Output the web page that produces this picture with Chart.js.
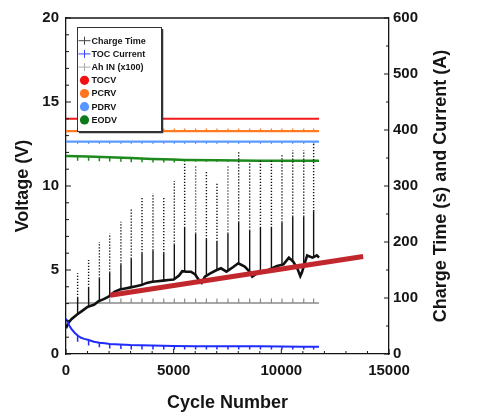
<!DOCTYPE html>
<html>
<head>
<meta charset="utf-8">
<script src="https://cdn.jsdelivr.net/npm/chart.js@4.4.1/dist/chart.umd.min.js"></script>
<style>
  html, body { margin: 0; padding: 0; background: #fff; }
</style>
</head>
<body>
<canvas id="chart" width="480" height="420"></canvas>
<script>
// ---- data ----
// voltage levels (left axis, V)
const levelCycles = [0, 11750];
const tocv = [14.0, 14.0];
const pcrv = [13.27, 13.27];
const pdrv = [12.64, 12.64];
const eodvCycles = [0, 1000, 2000, 3000, 4000, 5000, 5500, 7000, 9000, 11750];
const eodv = [11.78, 11.75, 11.71, 11.66, 11.61, 11.57, 11.55, 11.53, 11.51, 11.5];

// periodic disturbances, roughly every 500 cycles
const spikeCycles = [540, 1050, 1550, 2030, 2550, 3030, 3530, 4040, 4540, 5030, 5510, 6020,
  6520, 7010, 7520, 8020, 8530, 9030, 9540, 10030, 10530, 11040, 11500];
const pcrvSpike = [13.42, 13.42, 13.42, 13.42, 13.42, 13.42, 13.42, 13.42, 13.42, 13.42, 13.42, 13.42,
  13.42, 13.42, 13.42, 13.42, 13.42, 13.42, 13.42, 13.42, 13.42, 13.42, 13.42];
const pdrvSpike = [12.5, 12.5, 12.5, 12.5, 12.5, 12.5, 12.5, 12.5, 12.5, 12.5, 12.5, 12.5,
  12.5, 12.5, 12.5, 12.5, 12.5, 12.5, 12.5, 12.5, 12.5, 12.5, 12.5];
const eodvSpikeBase = [11.76, 11.74, 11.71, 11.69, 11.66, 11.64, 11.61, 11.59, 11.58, 11.57, 11.55, 11.55,
  11.54, 11.54, 11.53, 11.53, 11.52, 11.52, 11.51, 11.51, 11.5, 11.5, 11.5];
const eodvSpike = [11.5, 11.5, 11.48, 11.46, 11.44, 11.42, 11.42, 11.4, 11.4, 11.4, 11.45, 11.45,
  11.45, 11.45, 11.44, 11.44, 11.44, 11.44, 11.43, 11.43, 11.43, 11.43, 11.43];

// charge time (s), right axis
const chargeCycles = [0, 100, 250, 500, 750, 1000, 1150, 1300, 1500, 1750, 2000, 2250, 2500, 2750, 3000,
  3250, 3500, 3750, 4000, 4250, 4500, 4750, 5000, 5250, 5400, 5600, 5800, 6000, 6150, 6300, 6450,
  6700, 7000, 7200, 7450, 7750, 8000, 8300, 8500, 8650, 8800, 9000, 9400, 9800, 10100,
  10350, 10550, 10750, 10880, 10950, 11200, 11450, 11650, 11750];
const chargeTime = [46, 55, 62, 70, 77, 84, 86, 88, 94, 98, 103, 111, 115, 117, 119,
  121, 123, 127, 129, 130, 131, 132, 133, 140, 148, 147, 147, 142, 133, 127, 138,
  144, 150, 153, 147, 155, 162, 156, 148, 138, 142, 147, 150, 157, 160,
  172, 165, 152, 139, 145, 176, 172, 176, 172];
const chargeSpikeBase = [71, 85, 95, 106, 116, 120, 123, 129, 129, 133, 148, 142,
  140, 150, 150, 162, 148, 147, 152, 160, 165, 160, 173];
const chargeSpikeMid = [100, 118, 135, 145, 160, 170, 180, 185, 180, 195, 225, 215,
  205, 200, 215, 235, 220, 225, 225, 235, 245, 245, 255];
const chargeSpikeTop = [144, 168, 200, 215, 236, 260, 281, 287, 281, 309, 343, 335,
  326, 305, 335, 361, 340, 346, 348, 357, 364, 364, 376];

// top-of-charge current (A), right axis
const currentCycles = [0, 60, 150, 250, 400, 540, 700, 850, 1050, 1300, 1550, 1800, 2030, 2500,
  3000, 3500, 4000, 5000, 6000, 7000, 8000, 9000, 10000, 11000, 11750];
const current = [63, 58, 51, 45, 38, 33, 29, 27, 25, 22, 20, 19, 18, 17,
  16, 15.5, 15, 14.5, 14, 14, 14, 14, 13.5, 13, 13];
const currentSpikeBase = [33, 25, 20, 18, 17, 16, 15.5, 15, 14.8, 14.5, 14, 14,
  14, 14, 14, 14, 14, 14, 14, 13.5, 13.5, 13, 13];
const currentSpike = [22, 15, 12, 10, 9, 8, 8, 8, 8, 8, 8, 8,
  8, 8, 8, 8, 8, 8, 8, 8, 8, 8, 8];

// Ah in (x100), right axis
const ahCycles = [0, 11750];
const ahIn = [91, 91];
const ahSpike = [99, 99, 99, 99, 99, 99, 99, 99, 99, 99, 99, 99,
  99, 99, 99, 99, 99, 99, 99, 99, 99, 99, 99];

// charge-time trend
const trendCycles = [2050, 13800];
const trendTime = [105, 174];

// axes
const xTicks = { min: 0, max: 15000, step: 5000, minor: 1000 };
const vTicks = { min: 0, max: 20, step: 5, minor: 1 };
const sTicks = { min: 0, max: 600, step: 100, minor: 50 };

const legendItems = [
  { text: "Charge Time", mark: "plus", color: "#444" },
  { text: "TOC Current", mark: "plus", color: "#3344ff" },
  { text: "Ah IN (x100)", mark: "plus", color: "#aaa" },
  { text: "TOCV", mark: "dot", color: "#f01010" },
  { text: "PCRV", mark: "dot", color: "#ff7420" },
  { text: "PDRV", mark: "dot", color: "#5a96ff" },
  { text: "EODV", mark: "dot", color: "#0d7a1a" }
];

const FONT = '"Liberation Sans", Arial, sans-serif';
const INK = "#151515";

function pts(xs, ys) {
  return xs.map((x, i) => ({ x, y: ys[i] }));
}

function spikes(xs, bases, tips) {
  const out = [];
  xs.forEach((x, i) => {
    const b = Array.isArray(bases) ? bases[i] : bases;
    out.push({ x, y: b }, { x, y: tips[i] }, { x, y: null });
  });
  return out;
}

function chargeSpikes() {
  const out = [];
  spikeCycles.forEach((x, i) => {
    out.push({ x, y: chargeSpikeBase[i] }, { x, y: chargeSpikeMid[i] }, { x, y: chargeSpikeTop[i] }, { x, y: null });
  });
  return out;
}

function line(data, color, width, axis) {
  return {
    data, borderColor: color, backgroundColor: color, borderWidth: width,
    pointRadius: 0, tension: 0, spanGaps: false, yAxisID: axis
  };
}

const frame = {
  id: "frame",
  afterDatasetsDraw(chart) {
    const { ctx, chartArea: a, scales } = chart;
    ctx.save();
    ctx.strokeStyle = INK;
    ctx.lineWidth = 1.3;
    ctx.beginPath();
    ctx.moveTo(a.left, a.top);
    ctx.lineTo(a.right, a.top);
    ctx.stroke();

    ctx.lineWidth = 1;
    ctx.beginPath();
    for (let v = vTicks.min; v <= vTicks.max; v += vTicks.minor) {
      const p = scales.y.getPixelForValue(v);
      const len = v % vTicks.step === 0 ? 5 : 3;
      ctx.moveTo(a.left, p); ctx.lineTo(a.left + len, p);
    }
    for (let v = sTicks.min; v <= sTicks.max; v += sTicks.minor) {
      const p = scales.y1.getPixelForValue(v);
      const len = v % sTicks.step === 0 ? 5 : 3;
      ctx.moveTo(a.right, p); ctx.lineTo(a.right - len, p);
    }
    for (let v = xTicks.min; v <= xTicks.max; v += xTicks.minor) {
      const p = scales.x.getPixelForValue(v);
      const len = v % xTicks.step === 0 ? 5 : 3;
      ctx.moveTo(p, a.bottom); ctx.lineTo(p, a.bottom - len);
    }
    ctx.stroke();

    // legend box
    const bx = 77, by = 27, bw = 84, bh = 104;
    ctx.fillStyle = "#fff";
    ctx.fillRect(bx, by, bw, bh);
    ctx.strokeStyle = "#333";
    ctx.lineWidth = 1;
    ctx.strokeRect(bx + 0.5, by + 0.5, bw, bh);
    ctx.lineWidth = 1.5;
    ctx.beginPath();
    ctx.moveTo(bx + bw + 1.5, by + 2); ctx.lineTo(bx + bw + 1.5, by + bh + 1.5); ctx.lineTo(bx + 2, by + bh + 1.5);
    ctx.stroke();

    ctx.font = "bold 9px " + FONT;
    ctx.textBaseline = "middle";
    ctx.textAlign = "left";
    legendItems.forEach((it, i) => {
      const cy = 40.7 + i * 13.2;
      const cx = 84.5;
      if (it.mark === "plus") {
        ctx.strokeStyle = it.color;
        ctx.lineWidth = 1;
        ctx.beginPath();
        ctx.moveTo(cx - 6, cy); ctx.lineTo(cx + 6, cy);
        ctx.moveTo(cx, cy - 4); ctx.lineTo(cx, cy + 4);
        ctx.stroke();
      } else {
        ctx.fillStyle = it.color;
        ctx.beginPath();
        ctx.arc(cx, cy, 4.6, 0, Math.PI * 2);
        ctx.fill();
      }
      ctx.fillStyle = INK;
      ctx.fillText(it.text, 91.5, cy + 0.5);
    });

    // right axis title, reading bottom to top
    ctx.translate(441, (a.top + a.bottom) / 2);
    ctx.rotate(-Math.PI / 2);
    ctx.font = "bold 18px " + FONT;
    ctx.textAlign = "center";
    ctx.fillStyle = INK;
    ctx.fillText("Charge Time (s) and Current (A)", 0, 0);
    ctx.restore();
  }
};

const tickFont = { family: FONT, size: 15, weight: "bold" };
const titleFont = { family: FONT, size: 18, weight: "bold" };
const border = { display: true, color: INK, width: 1.3 };

new Chart(document.getElementById("chart"), {
  type: "line",
  data: {
    datasets: [
      line(pts(trendCycles, trendTime), "#c2272d", 5, "y1"),
      line(spikes(spikeCycles, currentSpikeBase, currentSpike), "#1f2bff", 1.5, "y1"),
      line(pts(currentCycles, current), "#1f2bff", 2, "y1"),
      {
        ...line(chargeSpikes(), "#111", 1.4, "y1"),
        segment: { borderDash: (c) => (c.p0DataIndex % 4 === 1 ? [1.2, 1.8] : undefined) }
      },
      line(pts(chargeCycles, chargeTime), "#111", 2.6, "y1"),
      line(spikes(spikeCycles, ahIn[0], ahSpike), "#8a8a8a", 1.2, "y1"),
      line(pts(ahCycles, ahIn), "#8a8a8a", 1.6, "y1"),
      line(spikes(spikeCycles, eodvSpikeBase, eodvSpike), "#1d8a1d", 1.5, "y"),
      line(pts(eodvCycles, eodv), "#1d8a1d", 2.5, "y"),
      line(spikes(spikeCycles, pdrv[0], pdrvSpike), "#5b9bff", 1.2, "y"),
      line(pts(levelCycles, pdrv), "#5b9bff", 2.2, "y"),
      line(spikes(spikeCycles, pcrv[0], pcrvSpike), "#ff7a22", 1.2, "y"),
      line(pts(levelCycles, pcrv), "#ff7a22", 2.2, "y"),
      line(pts(levelCycles, tocv), "#f21818", 2, "y")
    ]
  },
  options: {
    responsive: false,
    animation: false,
    layout: { padding: { top: 18 } },
    plugins: { legend: { display: false }, tooltip: { enabled: false } },
    scales: {
      x: {
        type: "linear", min: xTicks.min, max: xTicks.max,
        ticks: { stepSize: xTicks.step, font: tickFont, color: INK, padding: 8, maxRotation: 0, callback: (v) => String(v) },
        grid: { display: false, drawTicks: false },
        border,
        title: { display: true, text: "Cycle Number", font: titleFont, color: INK, padding: { top: 0, bottom: 6 } },
        afterFit: (s) => { s.height = 66; }
      },
      y: {
        position: "left", min: vTicks.min, max: vTicks.max,
        ticks: { stepSize: vTicks.step, font: tickFont, color: INK, padding: 7, callback: (v) => String(v) },
        grid: { display: false, drawTicks: false },
        border,
        title: { display: true, text: "Voltage (V)", font: titleFont, color: INK, padding: { top: 12, bottom: 0 } },
        afterFit: (s) => { s.width = 66; }
      },
      y1: {
        position: "right", min: sTicks.min, max: sTicks.max,
        ticks: { stepSize: sTicks.step, font: tickFont, color: INK, padding: 4, callback: (v) => String(v) },
        grid: { display: false, drawTicks: false },
        border,
        afterFit: (s) => { s.width = 91; }
      }
    }
  },
  plugins: [frame]
});
</script>
</body>
</html>
